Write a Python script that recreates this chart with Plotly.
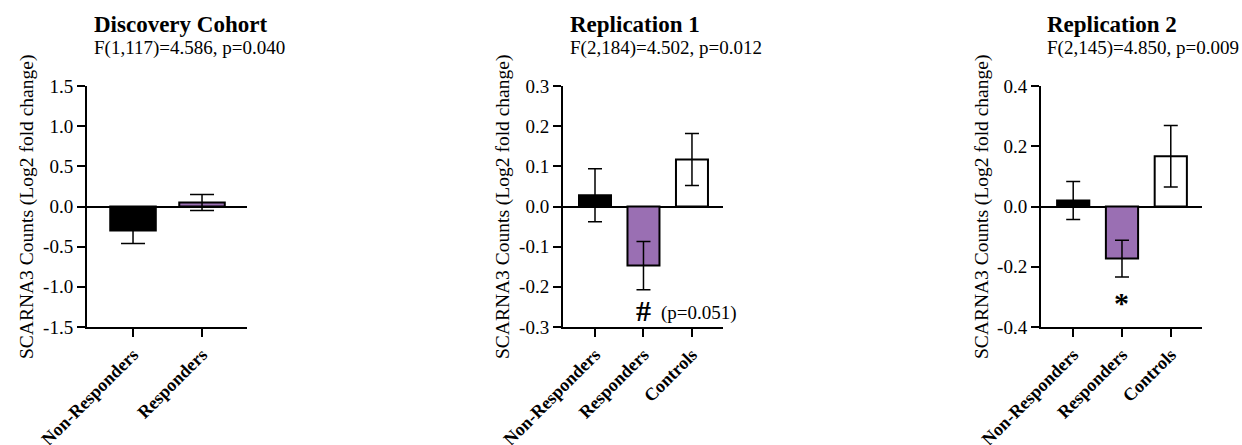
import plotly.graph_objects as go

# ---- data ----
cats_disc = ["Non-Responders", "Responders"]
vals_disc = [-0.30, 0.05]
err_disc = [0.16, 0.10]

cats_rep = ["Non-Responders", "Responders", "Controls"]
vals_rep1 = [0.028, -0.147, 0.117]
err_rep1 = [0.066, 0.060, 0.065]

vals_rep2 = [0.020, -0.173, 0.167]
err_rep2 = [0.063, 0.061, 0.102]

titles = ["Discovery Cohort", "Replication 1", "Replication 2"]
subtitles = ["F(1,117)=4.586, p=0.040", "F(2,184)=4.502, p=0.012", "F(2,145)=4.850, p=0.009"]
ytitle = "SCARNA3 Counts (Log2 fold change)"
yticks_disc = [-1.5, -1.0, -0.5, 0.0, 0.5, 1.0, 1.5]
yticks_rep1 = [-0.3, -0.2, -0.1, 0.0, 0.1, 0.2, 0.3]
yticks_rep2 = [-0.4, -0.2, 0.0, 0.2, 0.4]

BLACK = "#000000"
PURPLE = "#9A6FB3"
WHITE = "#FFFFFF"
ERR = "#000000"

W, H = 1242, 445
FONT = "Liberation Serif"

def px(x):
    return x / W

def py(y):
    return 1 - y / H

fig = go.Figure()

panels = [
    dict(cats=cats_disc, vals=vals_disc, err=err_disc, colors=[BLACK, PURPLE], ticks=yticks_disc,
         yrange=[-1.5, 1.5], xdom=[87, 247], xrange=[-0.667, 1.652], cap=12, ytx=27, tx=92),
    dict(cats=cats_rep, vals=vals_rep1, err=err_rep1, colors=[BLACK, PURPLE, WHITE], ticks=yticks_rep1,
         yrange=[-0.3, 0.3], xdom=[563, 723], xrange=[-0.66, 2.64], cap=7, ytx=503, tx=568),
    dict(cats=cats_rep, vals=vals_rep2, err=err_rep2, colors=[BLACK, PURPLE, WHITE], ticks=yticks_rep2,
         yrange=[-0.4, 0.4], xdom=[1041, 1202], xrange=[-0.66, 2.64], cap=7, ytx=982, tx=1045),
]

ydom = [py(327), py(86)]
annotations = []
layout_axes = {}
for i, p in enumerate(panels, start=1):
    xa = "x" if i == 1 else f"x{i}"
    ya = "y" if i == 1 else f"y{i}"
    fig.add_trace(go.Bar(
        x=list(range(len(p["cats"]))), y=p["vals"],
        width=0.66,
        marker=dict(color=p["colors"], line=dict(color=BLACK, width=2)),
        error_y=dict(type="data", array=p["err"], visible=True, color=ERR, thickness=1.5, width=p["cap"]),
        xaxis=xa, yaxis=ya, showlegend=False,
    ))
    xkey = "xaxis" if i == 1 else f"xaxis{i}"
    ykey = "yaxis" if i == 1 else f"yaxis{i}"
    layout_axes[xkey] = dict(
        domain=[px(p["xdom"][0]), px(p["xdom"][1])], range=p["xrange"], anchor=ya,
        tickmode="array", tickvals=list(range(len(p["cats"]))),
        ticktext=[f"<b>{c}</b>" for c in p["cats"]],
        tickangle=-45, ticks="outside", ticklen=8, tickwidth=2, tickcolor=BLACK,
        showline=True, linewidth=2, linecolor=BLACK, showgrid=False, zeroline=False,
        tickfont=dict(family=FONT, size=18, color=BLACK), fixedrange=True, automargin=False,
    )
    layout_axes[ykey] = dict(
        domain=ydom, range=p["yrange"], anchor=xa,
        tickmode="array", tickvals=p["ticks"], ticktext=[f"{t:.1f}" for t in p["ticks"]],
        ticks="outside", ticklen=8, tickwidth=2, tickcolor=BLACK,
        showline=True, linewidth=2, linecolor=BLACK, showgrid=False,
        zeroline=True, zerolinecolor=BLACK, zerolinewidth=2,
        tickfont=dict(family=FONT, size=19, color=BLACK), fixedrange=True, automargin=False,
    )
    # titles
    annotations.append(dict(text=f"<b>{titles[i-1]}</b>", x=px(p["tx"]), y=py(24),
                            xref="paper", yref="paper", xanchor="left", yanchor="middle",
                            showarrow=False, font=dict(family=FONT, size=23, color=BLACK)))
    annotations.append(dict(text=subtitles[i-1], x=px(p["tx"]), y=py(48),
                            xref="paper", yref="paper", xanchor="left", yanchor="middle",
                            showarrow=False, font=dict(family=FONT, size=19, color=BLACK)))
    annotations.append(dict(text=ytitle, x=px(p["ytx"]), y=py(207), textangle=-90,
                            xref="paper", yref="paper", xanchor="center", yanchor="middle",
                            showarrow=False, font=dict(family=FONT, size=19.5, color=BLACK)))

# significance marks
annotations.append(dict(text="<b>#</b>", x=1, y=-0.26, xref="x2", yref="y2", showarrow=False,
                        xanchor="center", yanchor="middle", font=dict(family=FONT, size=30, color=BLACK)))
annotations.append(dict(text="(p=0.051)", x=1.33, y=-0.265, xref="x2", yref="y2", showarrow=False,
                        xanchor="left", yanchor="middle", font=dict(family=FONT, size=19, color=BLACK)))
annotations.append(dict(text="<b>*</b>", x=1, y=-0.318, xref="x3", yref="y3", showarrow=False,
                        xanchor="center", yanchor="middle", font=dict(family=FONT, size=30, color=BLACK)))

fig.update_layout(
    width=W, height=H, margin=dict(l=0, r=0, t=0, b=0, autoexpand=False),
    paper_bgcolor="white", plot_bgcolor="white",
    annotations=annotations, bargap=0.34,
    font=dict(family=FONT, color=BLACK),
    **layout_axes,
)

fig.write_html("out.html")
